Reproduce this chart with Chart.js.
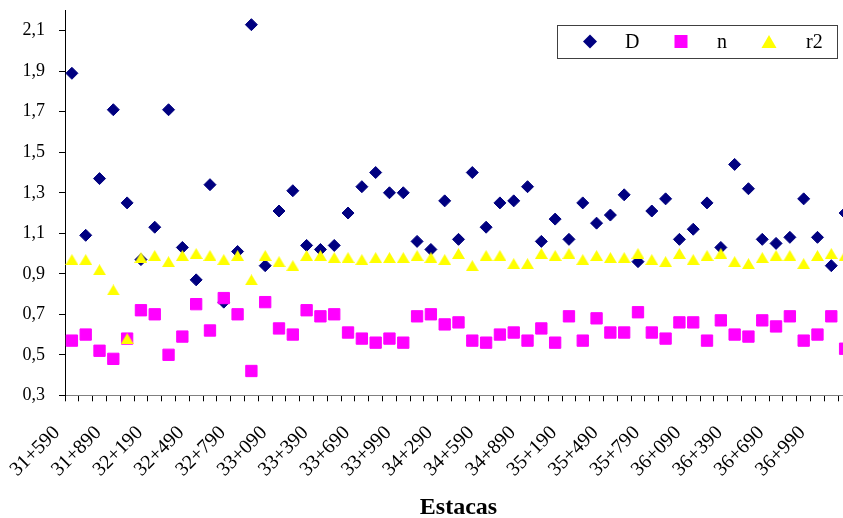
<!DOCTYPE html>
<html>
<head>
<meta charset="utf-8">
<script src="https://cdn.jsdelivr.net/npm/chart.js@4.4.1/dist/chart.umd.min.js"></script>
<style>
  html, body { margin: 0; padding: 0; background: #fff; overflow: hidden; }
  #wrap { width: 852px; height: 518px; }
</style>
</head>
<body>
<div id="wrap"><canvas id="chart" width="852" height="518"></canvas></div>
<script>
// ===== DATA =====
const estacas = [
  '31+590', '31+690', '31+790', '31+890', '31+990', '32+090', '32+190', '32+290', '32+390', '32+490',
  '32+590', '32+690', '32+790', '32+890', '32+990', '33+090', '33+190', '33+290', '33+390', '33+490',
  '33+590', '33+690', '33+790', '33+890', '33+990', '34+090', '34+190', '34+290', '34+390', '34+490',
  '34+590', '34+690', '34+790', '34+890', '34+990', '35+090', '35+190', '35+290', '35+390', '35+490',
  '35+590', '35+690', '35+790', '35+890', '35+990', '36+090', '36+190', '36+290', '36+390', '36+490',
  '36+590', '36+690', '36+790', '36+890', '36+990', '37+090', '37+190'
];

const valoresD = [
  1.89, 1.09, 1.37, 1.71, 1.25, 0.97, 1.13, 1.71, 1.03, 0.87,
  1.34, 0.76, 1.01, 2.13, 0.94, 1.21, 1.31, 1.04, 1.02, 1.04,
  1.20, 1.33, 1.40, 1.30, 1.30, 1.06, 1.02, 1.26, 1.07, 1.40,
  1.13, 1.25, 1.26, 1.33, 1.06, 1.17, 1.07, 1.25, 1.15, 1.19,
  1.29, 0.96, 1.21, 1.27, 1.07, 1.12, 1.25, 1.03, 1.44, 1.32,
  1.07, 1.05, 1.08, 1.27, 1.08, 0.94, 1.20
];

const valoresN = [
  0.57, 0.60, 0.52, 0.48, 0.58, 0.72, 0.70, 0.50, 0.59, 0.75,
  0.62, 0.78, 0.70, 0.42, 0.76, 0.63, 0.60, 0.72, 0.69, 0.70,
  0.61, 0.58, 0.56, 0.58, 0.56, 0.69, 0.70, 0.65, 0.66, 0.57,
  0.56, 0.60, 0.61, 0.57, 0.63, 0.56, 0.69, 0.57, 0.68, 0.61,
  0.61, 0.71, 0.61, 0.58, 0.66, 0.66, 0.57, 0.67, 0.60, 0.59,
  0.67, 0.64, 0.69, 0.57, 0.60, 0.69, 0.53
];

const valoresR2 = [
  0.97, 0.97, 0.92, 0.82, 0.58, 0.98, 0.99, 0.96, 0.99, 1.00,
  0.99, 0.97, 0.99, 0.87, 0.99, 0.96, 0.94, 0.99, 0.99, 0.98,
  0.98, 0.97, 0.98, 0.98, 0.98, 0.99, 0.98, 0.97, 1.00, 0.94,
  0.99, 0.99, 0.95, 0.95, 1.00, 0.99, 1.00, 0.97, 0.99, 0.98,
  0.98, 1.00, 0.97, 0.96, 1.00, 0.97, 0.99, 1.00, 0.96, 0.95,
  0.98, 0.99, 0.99, 0.95, 0.99, 1.00, 0.99
];

const yTicks = [0.3, 0.5, 0.7, 0.9, 1.1, 1.3, 1.5, 1.7, 1.9, 2.1];

// ===== STYLE =====
const FONT = '"Liberation Serif", "Times New Roman", serif';
const COR_D = '#000080';
const COR_N = '#FF00FF';
const COR_R2 = '#FFFF00';

// Excel centres the triangle on its box, Chart.js on its circumcentre,
// so the r2 marker is a small image centred on the value
function makeTriangle(w, h, color) {
  const c = document.createElement('canvas');
  c.width = w;
  c.height = h;
  const g = c.getContext('2d');
  g.fillStyle = color;
  g.beginPath();
  g.moveTo(w / 2, 0);
  g.lineTo(w, h);
  g.lineTo(0, h);
  g.closePath();
  g.fill();
  return c;
}
const triR2 = makeTriangle(13, 11, COR_R2);

// legend box drawn inside the plot area (like Excel)
const legendBox = {
  id: 'legendBox',
  afterDatasetsDraw(chart) {
    const { ctx, chartArea } = chart;
    const w = 280, h = 33;
    const x0 = Math.round(chartArea.right - 15 - w);
    const y0 = Math.round(chartArea.top + 14);
    const cy = y0 + h / 2;

    ctx.save();
    ctx.fillStyle = '#fff';
    ctx.fillRect(x0, y0, w, h);
    ctx.strokeStyle = '#404040';
    ctx.lineWidth = 1;
    ctx.strokeRect(x0 + 0.5, y0 + 0.5, w, h);

    const markerX = [33, 124, 212];
    const textX = [68, 160, 249];
    ctx.font = '20px ' + FONT;
    ctx.textBaseline = 'middle';
    ctx.textAlign = 'left';

    chart.data.datasets.forEach((ds, i) => {
      const mx = x0 + markerX[i];
      ctx.fillStyle = ds.backgroundColor;
      ctx.beginPath();
      if (ds.pointStyle === 'rectRot') {
        ctx.moveTo(mx - 7, cy);
        ctx.lineTo(mx, cy - 7);
        ctx.lineTo(mx + 7, cy);
        ctx.lineTo(mx, cy + 7);
      } else if (ds.pointStyle === 'rect') {
        ctx.rect(mx - 6.5, cy - 6.5, 13, 13);
      } else {
        ctx.moveTo(mx, cy - 6.5);
        ctx.lineTo(mx + 7.5, cy + 6.5);
        ctx.lineTo(mx - 7.5, cy + 6.5);
      }
      ctx.closePath();
      ctx.fill();

      ctx.fillStyle = '#000';
      ctx.fillText(ds.label, x0 + textX[i], cy + 1);
    });
    ctx.restore();
  }
};

// ===== CHART =====
// the original plot runs a little past the right edge of the picture,
// so the canvas is a bit wider than the window and gets cut off
const ctx = document.getElementById('chart').getContext('2d');
new Chart(ctx, {
  type: 'line',
  data: {
    labels: estacas,
    datasets: [
      {
        label: 'D',
        data: valoresD,
        showLine: false,
        pointStyle: 'rectRot',
        pointRadius: 6,
        pointBorderWidth: 1,
        backgroundColor: COR_D,
        borderColor: COR_D,
        order: 3
      },
      {
        label: 'n',
        data: valoresN,
        showLine: false,
        pointStyle: 'rect',
        pointRadius: 8,
        pointBorderWidth: 1,
        backgroundColor: COR_N,
        borderColor: COR_N,
        order: 2
      },
      {
        label: 'r2',
        data: valoresR2,
        showLine: false,
        pointStyle: triR2,
        pointRadius: 7,
        pointBorderWidth: 0,
        backgroundColor: COR_R2,
        borderColor: COR_R2,
        order: 1
      }
    ]
  },
  options: {
    responsive: false,
    animation: false,
    layout: { autoPadding: false, padding: { top: 10.5, left: 0, right: 0, bottom: 0 } },
    plugins: {
      legend: { display: false },
      tooltip: { enabled: false }
    },
    scales: {
      x: {
        offset: true,
        grid: { offset: true, drawOnChartArea: false, drawTicks: true, tickLength: 6, color: '#000' },
        border: { display: true, color: '#808080', width: 1 },
        ticks: {
          autoSkip: false,
          minRotation: 45,
          maxRotation: 45,
          padding: 20,
          labelOffset: -15,
          color: '#000',
          font: { family: FONT, size: 20 },
          callback: function(val, i) {
            return i % 3 === 0 ? this.getLabelForValue(val) : '';
          }
        },
        title: {
          display: true,
          text: 'Estacas',
          color: '#000',
          font: { family: FONT, size: 24, weight: 'bold', lineHeight: 0.85 },
          padding: { top: 0, bottom: 0 }
        },
        afterFit: s => {
          s.height = 122.7;
          s.paddingLeft = 0;
          s.paddingRight = 0;
        }
      },
      y: {
        min: 0.3,
        max: 2.2,
        afterBuildTicks: s => { s.ticks = yTicks.map(v => ({ value: v })); },
        grid: { drawOnChartArea: false, drawTicks: true, tickLength: 6, color: '#000' },
        border: { display: true, color: '#000', width: 1 },
        ticks: {
          padding: 14,
          color: '#000',
          font: { family: FONT, size: 18 },
          callback: v => v.toFixed(1).replace('.', ',')
        },
        afterFit: s => {
          s.width = 65;
          s.paddingTop = 0;
          s.paddingBottom = 0;
        }
      }
    }
  },
  plugins: [legendBox]
});
</script>
</body>
</html>
